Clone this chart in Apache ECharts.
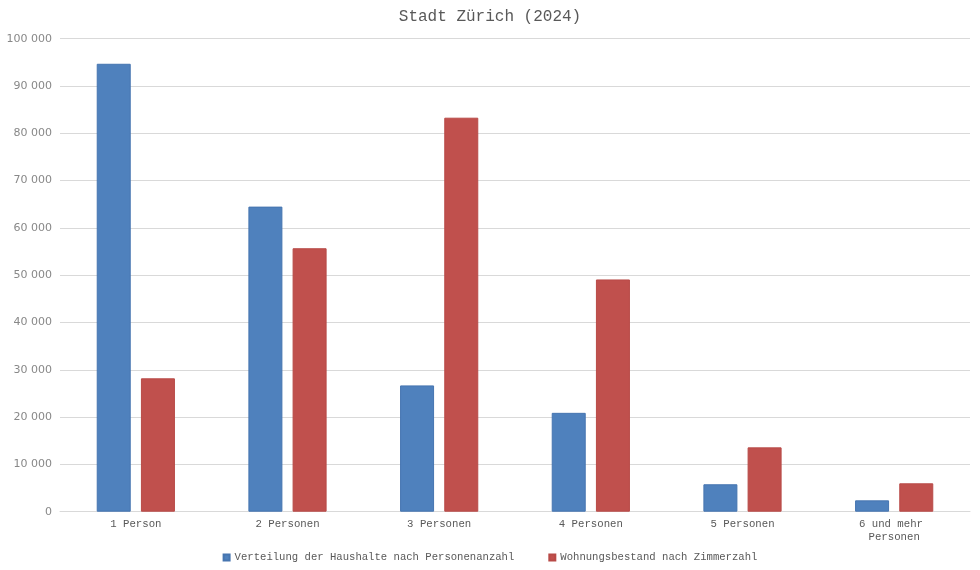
<!DOCTYPE html>
<html>
<head>
<meta charset="utf-8">
<script src="https://cdn.jsdelivr.net/npm/echarts@6/dist/echarts.min.js"></script>
<style>html,body{margin:0;padding:0;background:#fff}#c{width:980px;height:570px}</style>
</head>
<body>
<div id="c"></div>
<script>
const titleText = 'Stadt Zürich (2024)';
const categories = ['1 Person', '2 Personen', '3 Personen', '4 Personen', '5 Personen', '6 und mehr Personen'];
const seriesNames = ['Verteilung der Haushalte nach Personenanzahl', 'Wohnungsbestand nach Zimmerzahl'];
const haushalte = [94700, 64500, 26700, 20900, 5800, 2400];
const wohnungen = [28200, 55700, 83300, 49100, 13600, 6000];
const yMin = 0, yMax = 100000, yInterval = 10000;

const mono = '"Liberation Mono", "Courier New", monospace';
const chart = echarts.init(document.getElementById('c'));
chart.setOption({
  animation: false,
  backgroundColor: '#ffffff',
  title: {
    text: titleText, left: 'center', top: 4,
    textStyle: { fontFamily: mono, fontSize: 16, fontWeight: 'normal', color: '#595959' }
  },
  legend: {
    bottom: 2, left: 'center', icon: 'rect', itemWidth: 6, itemHeight: 6, itemGap: 34,
    textStyle: { fontFamily: mono, fontSize: 10.6, color: '#595959' },
    data: seriesNames
  },
  grid: { left: 60, right: 10, top: 38.7, bottom: 58.3, containLabel: false },
  xAxis: {
    type: 'category', data: categories,
    axisLine: { lineStyle: { color: '#d9d9d9', width: 1 } },
    axisTick: { show: false },
    axisLabel: { interval: 0, fontFamily: mono, fontSize: 10.7, color: '#595959', margin: 6, width: 90, overflow: 'break', lineHeight: 13 }
  },
  yAxis: {
    type: 'value', min: yMin, max: yMax, interval: yInterval,
    axisLine: { show: false }, axisTick: { show: false },
    splitLine: { lineStyle: { color: '#d9d9d9', width: 1 } },
    axisLabel: {
      fontFamily: '"DejaVu Sans", sans-serif', fontSize: 11, color: '#888888', margin: 8,
      formatter: v => String(v).replace(/\B(?=(\d{3})+(?!\d))/g, ' ')
    }
  },
  series: [
    { name: seriesNames[0], type: 'bar', data: haushalte, barWidth: 34, barGap: '30%',
      itemStyle: { color: '#4f81bd', borderColor: '#4675b0', borderWidth: 1 } },
    { name: seriesNames[1], type: 'bar', data: wohnungen, barWidth: 34,
      itemStyle: { color: '#c0504d', borderColor: '#b84a47', borderWidth: 1 } }
  ]
});
</script>
</body>
</html>
